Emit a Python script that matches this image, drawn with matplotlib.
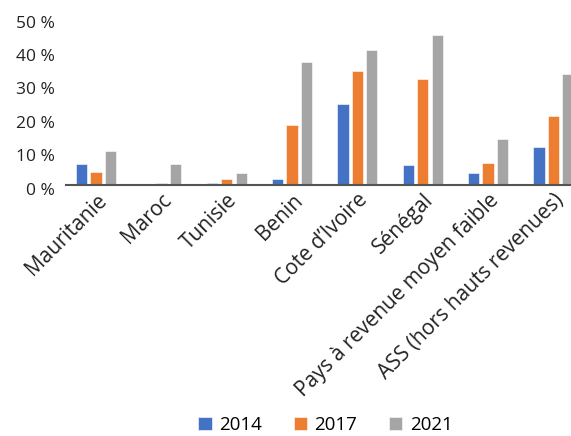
import matplotlib.pyplot as plt
import matplotlib.transforms as mtransforms
import numpy as np

plt.rcParams['font.family'] = ['Open Sans', 'DejaVu Sans']

categories = ['Mauritanie', 'Maroc', 'Tunisie', 'Benin', 'Cote d\u2019Ivoire', 'Sénégal',
              'Pays à revenue moyen faible', 'ASS (hors hauts revenues)']
years = ['2014', '2017', '2021']
v2014 = [6.5, 0.0, 0.75, 2.0, 24.5, 6.2, 3.8, 11.6]
v2017 = [4.0, 0.75, 2.0, 18.2, 34.4, 32.0, 6.7, 20.9]
v2021 = [10.3, 6.5, 3.8, 36.9, 40.7, 45.2, 13.9, 33.5]
colors = ['#4472C4', '#ED7D31', '#A5A5A5']

fig = plt.figure(figsize=(5.71, 4.36), dpi=100)
ax = fig.add_axes([66 / 571, 1 - 185.5 / 436, 1 - 66 / 571, 167 / 436])

x = np.arange(len(categories))
for i, (vals, lab) in enumerate(zip([v2014, v2017, v2021], years)):
    ax.bar(x + (i - 1) * 0.22, vals, width=0.17, color=colors[i], label=lab,
           edgecolor='white', linewidth=0.4)

ax.set_xlim(-0.46, 7.27)
ax.set_ylim(0, 50)
ax.set_yticks(range(0, 51, 10))
ax.set_yticklabels([f'{t} %' for t in range(0, 51, 10)], fontsize=12.5, color='#222222')
ax.set_xticks(x)
ax.set_xticklabels(categories, rotation=45, ha='right', rotation_mode='anchor',
                   fontsize=15, color='#222222')
ax.tick_params(axis='both', length=0)
ax.tick_params(axis='y', pad=8)
ax.tick_params(axis='x', pad=3)
shift = mtransforms.ScaledTranslation(0, -3 / 100, fig.dpi_scale_trans)
for lbl in ax.get_yticklabels():
    lbl.set_transform(lbl.get_transform() + shift)
for s in ['top', 'right', 'left']:
    ax.spines[s].set_visible(False)
ax.spines['bottom'].set_color('#555555')
ax.spines['bottom'].set_linewidth(1.5)

fig.legend(loc='center', bbox_to_anchor=(0.57, 1 - 425 / 436), ncol=3, frameon=False,
           fontsize=13.5, handlelength=0.7, handleheight=0.7, columnspacing=1.7,
           handletextpad=0.4)

fig.savefig('out.png', dpi=100)
